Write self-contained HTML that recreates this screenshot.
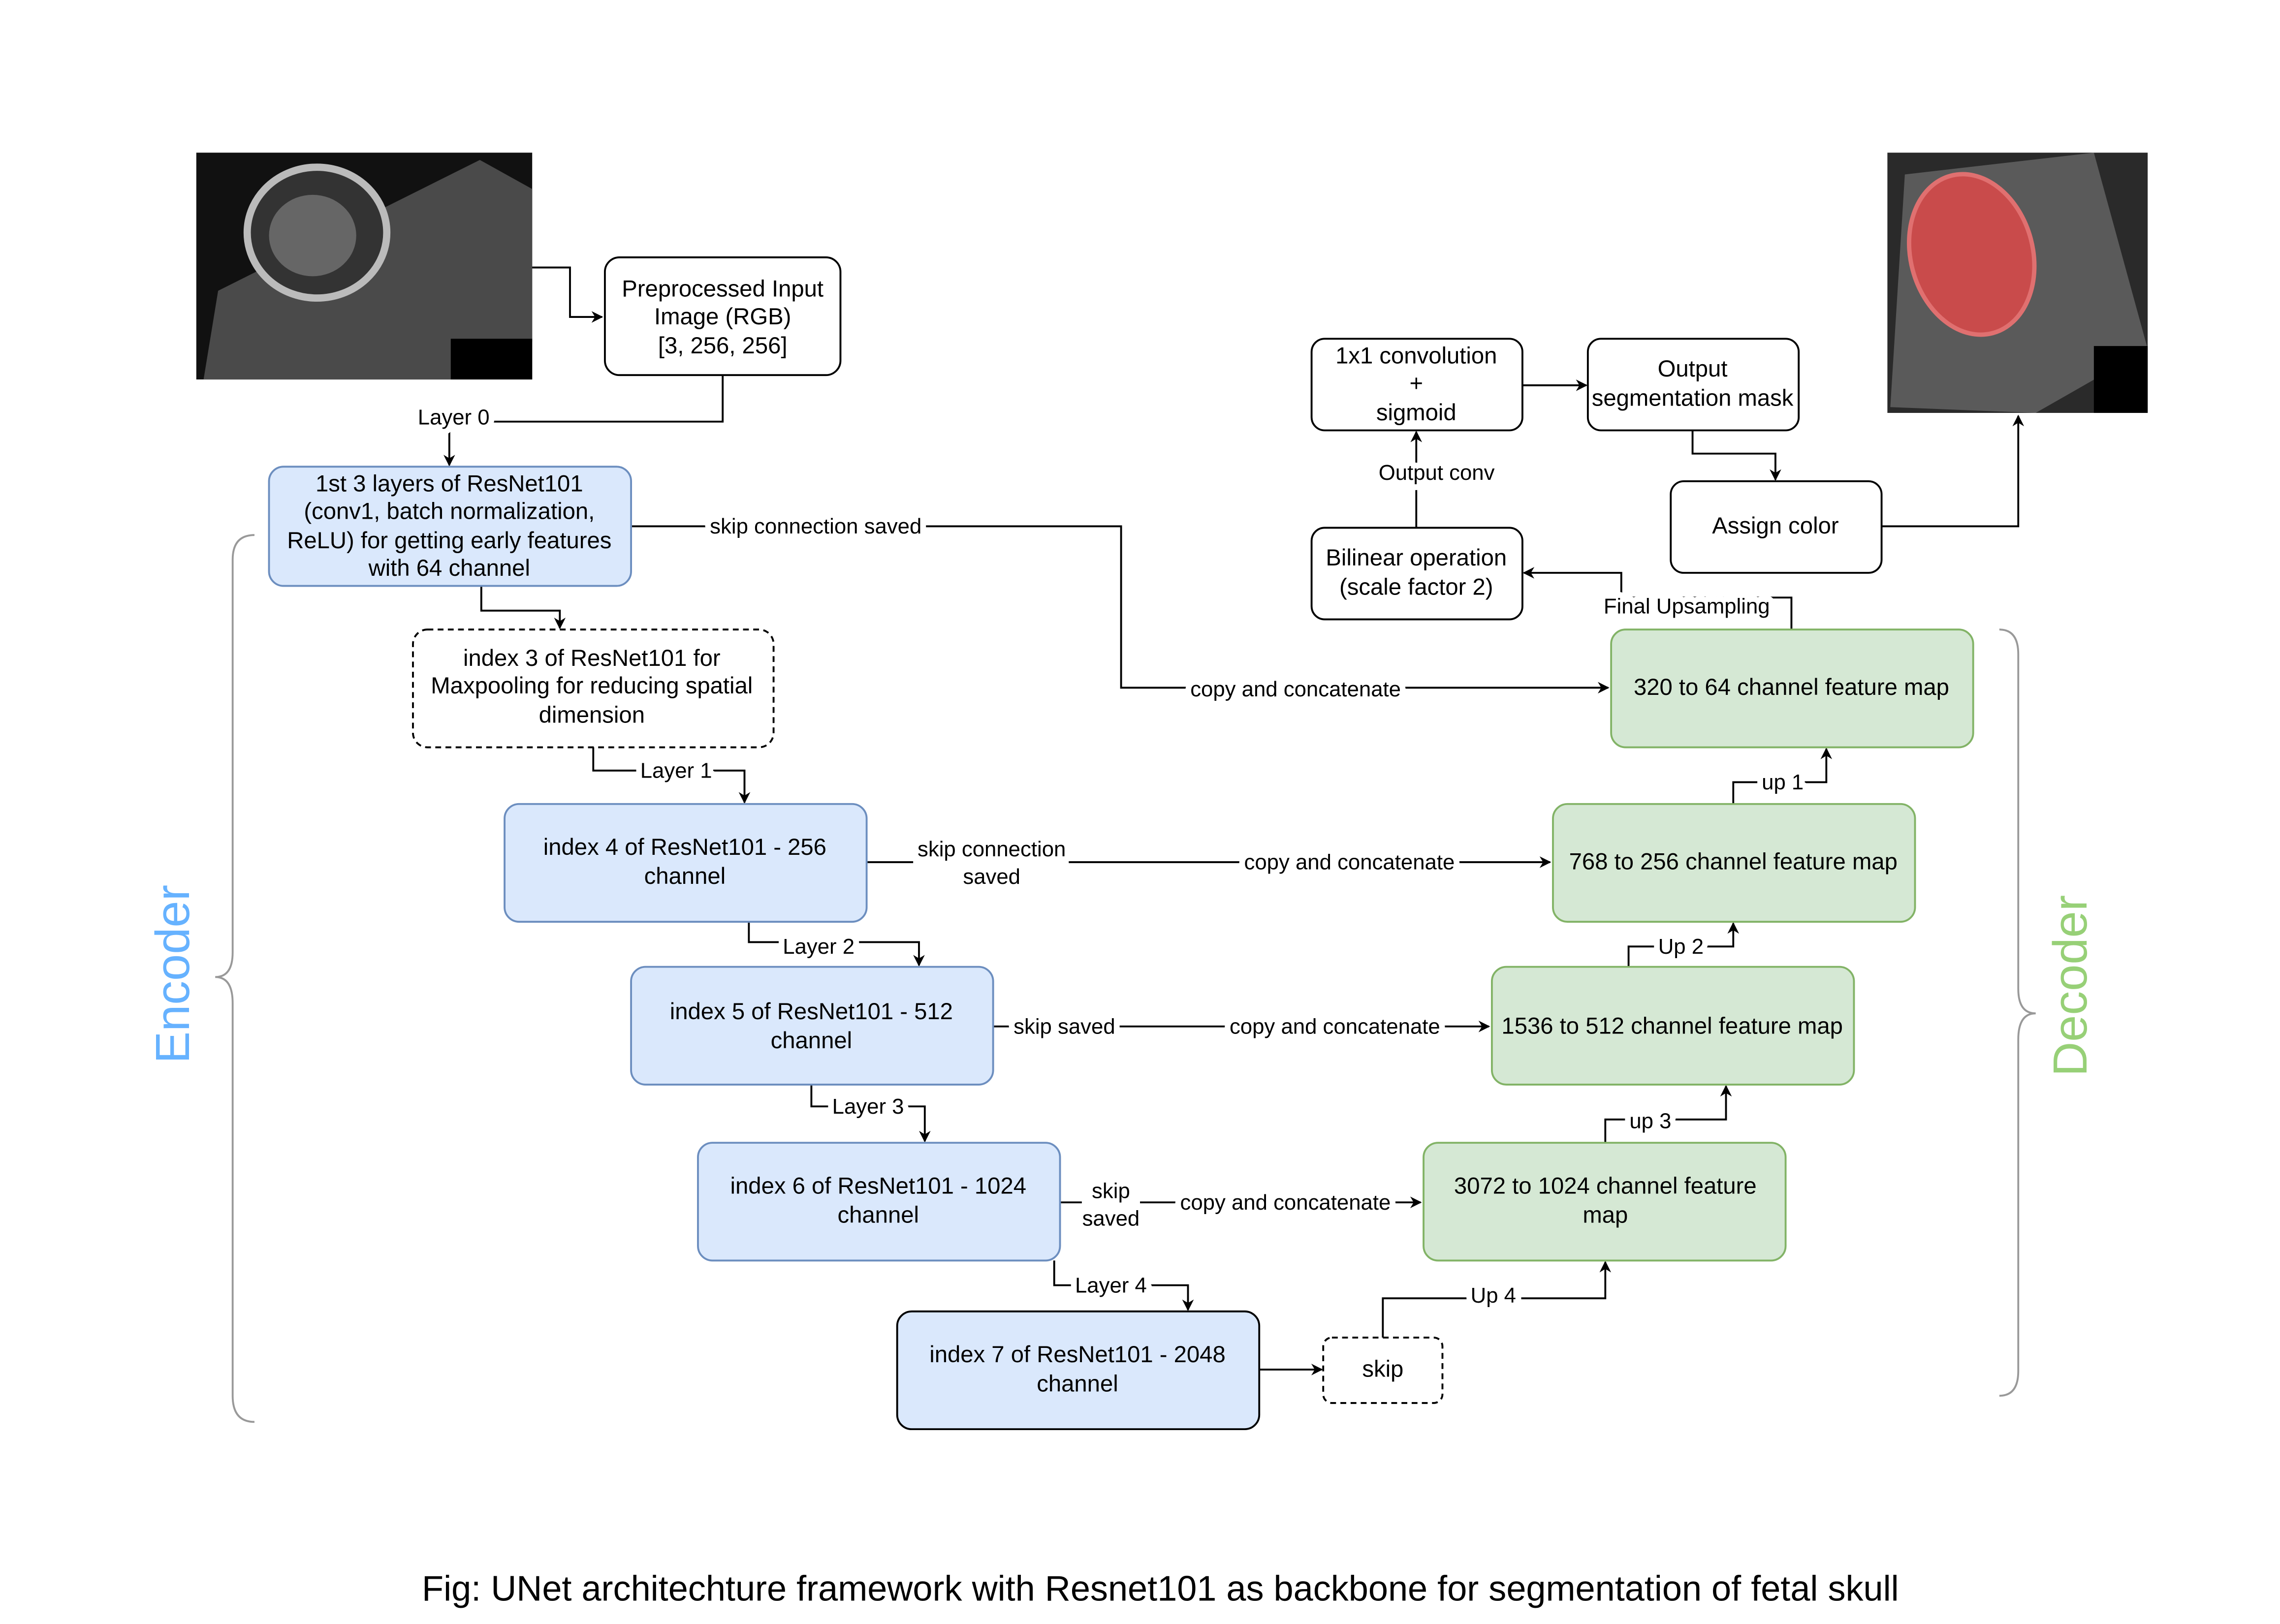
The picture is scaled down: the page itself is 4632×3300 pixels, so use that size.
<!DOCTYPE html>
<html><head><meta charset="utf-8"><style>
html,body{margin:0;padding:0;background:#fff}
svg{display:block}
text{font-family:"Liberation Sans",Arial,sans-serif;fill:#000}
.b{font-size:16px;text-anchor:middle}
.l{font-size:14.8px;text-anchor:middle;paint-order:stroke;stroke:#fff;stroke-width:8px;stroke-linejoin:round}
.c{fill:none;stroke:#000;stroke-width:1.3}
</style></head><body>
<svg width="4632" height="3300" viewBox="0 0 1568 1117" preserveAspectRatio="none">
<defs>
<marker id="a" viewBox="0 0 10 10" refX="9" refY="5" markerWidth="8" markerHeight="8" orient="auto" markerUnits="userSpaceOnUse"><path d="M0,0 L10,5 L0,10 L3,5 z" fill="#000"/></marker>
</defs>
<rect width="1568" height="1117" fill="#fff"/>
<!-- left image -->
<rect x="135" y="105" width="231" height="156" fill="#111"/>
<polygon points="150,200 330,110 366,130 366,235 310,261 140,261" fill="#4a4a4a"/>
<ellipse cx="218" cy="160" rx="48" ry="45" fill="#333" stroke="#bbb" stroke-width="5"/>
<ellipse cx="215" cy="162" rx="30" ry="28" fill="#666"/>
<rect x="310" y="233" width="56" height="28" fill="#000"/>
<!-- right image -->
<rect x="1298" y="105" width="179" height="179" fill="#2a2a2a"/>
<polygon points="1310,120 1440,105 1477,240 1400,284 1300,280" fill="#5a5a5a"/>
<ellipse cx="1356" cy="175" rx="42" ry="56" transform="rotate(-15 1356 175)" fill="#c94b4b" stroke="#e07070" stroke-width="3"/>
<rect x="1440" y="238" width="37" height="46" fill="#000"/>

<!-- connectors -->
<path class="c" d="M366,184 H392 V218 H414" marker-end="url(#a)"/>
<path class="c" d="M497,258 V290 H309 V320" marker-end="url(#a)"/>
<path class="c" d="M434,362 H771 V473 H1106" marker-end="url(#a)"/>
<path class="c" d="M331,403 V420 H385 V432" marker-end="url(#a)"/>
<path class="c" d="M408,514 V530 H512 V552" marker-end="url(#a)"/>
<path class="c" d="M596,593 H1066" marker-end="url(#a)"/>
<path class="c" d="M515,634 V648 H632 V664" marker-end="url(#a)"/>
<path class="c" d="M683,706 H1024" marker-end="url(#a)"/>
<path class="c" d="M558,746 V761 H636 V785" marker-end="url(#a)"/>
<path class="c" d="M729,827 H977" marker-end="url(#a)"/>
<path class="c" d="M725,867 V884 H817 V901" marker-end="url(#a)"/>
<path class="c" d="M866,942 H909" marker-end="url(#a)"/>
<path class="c" d="M951,920 V893 H1104 V868" marker-end="url(#a)"/>
<path class="c" d="M1104,786 V770 H1187 V747" marker-end="url(#a)"/>
<path class="c" d="M1120,665 V651 H1192 V635" marker-end="url(#a)"/>
<path class="c" d="M1192,553 V538 H1256 V515" marker-end="url(#a)"/>
<path class="c" d="M1232,433 V411 H1115 V394 H1048" marker-end="url(#a)"/>
<path class="c" d="M974,363 V297" marker-end="url(#a)"/>
<path class="c" d="M1047,265 H1091" marker-end="url(#a)"/>
<path class="c" d="M1164,296 V312 H1221 V330" marker-end="url(#a)"/>
<path class="c" d="M1294,362 H1388 V286" marker-end="url(#a)"/>

<!-- label backgrounds -->
<rect x="628" y="575" width="107" height="38" fill="#fff"/>
<rect x="744" y="810" width="40" height="38" fill="#fff"/>

<!-- labels -->
<text class="l" x="312" y="292">Layer 0</text>
<text class="l" x="561" y="367">skip connection saved</text>
<text class="l" x="891" y="479">copy and concatenate</text>
<text class="l" x="465" y="535">Layer 1</text>
<text class="l" x="682" y="589">skip connection</text>
<text class="l" x="682" y="608">saved</text>
<text class="l" x="928" y="598">copy and concatenate</text>
<text class="l" x="563" y="656">Layer 2</text>
<text class="l" x="732" y="711">skip saved</text>
<text class="l" x="918" y="711">copy and concatenate</text>
<text class="l" x="597" y="766">Layer 3</text>
<text class="l" x="764" y="824">skip</text>
<text class="l" x="764" y="843">saved</text>
<text class="l" x="884" y="832">copy and concatenate</text>
<text class="l" x="764" y="889">Layer 4</text>
<text class="l" x="1027" y="896">Up 4</text>
<text class="l" x="1135" y="776">up 3</text>
<text class="l" x="1156" y="656">Up 2</text>
<text class="l" x="1226" y="543">up 1</text>
<text class="l" x="1160" y="422">Final Upsampling</text>
<text class="l" x="988" y="330">Output conv</text>

<!-- boxes -->
<rect x="416" y="177" width="162" height="81" rx="10" fill="#fff" stroke="#000" stroke-width="1.3"/>
<text class="b" x="497" y="204">Preprocessed Input</text><text class="b" x="497" y="223">Image (RGB)</text><text class="b" x="497" y="243">[3, 256, 256]</text>

<rect x="185" y="321" width="249" height="82" rx="10" fill="#dae8fc" stroke="#6c8ebf" stroke-width="1.3"/>
<text class="b" x="309" y="338">1st 3 layers of ResNet101</text><text class="b" x="309" y="357">(conv1, batch normalization,</text><text class="b" x="309" y="377">ReLU) for getting early features</text><text class="b" x="309" y="396">with 64 channel</text>

<rect x="284" y="433" width="248" height="81" rx="10" fill="#fff" stroke="#000" stroke-width="1.3" stroke-dasharray="4,3"/>
<text class="b" x="407" y="458">index 3 of ResNet101 for</text><text class="b" x="407" y="477">Maxpooling for reducing spatial</text><text class="b" x="407" y="497">dimension</text>

<rect x="347" y="553" width="249" height="81" rx="10" fill="#dae8fc" stroke="#6c8ebf" stroke-width="1.3"/>
<text class="b" x="471" y="588">index 4 of ResNet101 - 256</text><text class="b" x="471" y="608">channel</text>

<rect x="434" y="665" width="249" height="81" rx="10" fill="#dae8fc" stroke="#6c8ebf" stroke-width="1.3"/>
<text class="b" x="558" y="701">index 5 of ResNet101 - 512</text><text class="b" x="558" y="721">channel</text>

<rect x="480" y="786" width="249" height="81" rx="10" fill="#dae8fc" stroke="#6c8ebf" stroke-width="1.3"/>
<text class="b" x="604" y="821">index 6 of ResNet101 - 1024</text><text class="b" x="604" y="841">channel</text>

<rect x="617" y="902" width="249" height="81" rx="10" fill="#dae8fc" stroke="#000" stroke-width="1.3"/>
<text class="b" x="741" y="937">index 7 of ResNet101 - 2048</text><text class="b" x="741" y="957">channel</text>

<rect x="910" y="920" width="82" height="45" rx="6" fill="#fff" stroke="#000" stroke-width="1.3" stroke-dasharray="4,3"/>
<text class="b" x="951" y="947">skip</text>

<rect x="979" y="786" width="249" height="81" rx="10" fill="#d5e8d4" stroke="#82b366" stroke-width="1.3"/>
<text class="b" x="1104" y="821">3072 to 1024 channel feature</text><text class="b" x="1104" y="841">map</text>

<rect x="1026" y="665" width="249" height="81" rx="10" fill="#d5e8d4" stroke="#82b366" stroke-width="1.3"/>
<text class="b" x="1150" y="711">1536 to 512 channel feature map</text>

<rect x="1068" y="553" width="249" height="81" rx="10" fill="#d5e8d4" stroke="#82b366" stroke-width="1.3"/>
<text class="b" x="1192" y="598">768 to 256 channel feature map</text>

<rect x="1108" y="433" width="249" height="81" rx="10" fill="#d5e8d4" stroke="#82b366" stroke-width="1.3"/>
<text class="b" x="1232" y="478">320 to 64 channel feature map</text>

<rect x="902" y="363" width="145" height="63" rx="9" fill="#fff" stroke="#000" stroke-width="1.3"/>
<text class="b" x="974" y="389">Bilinear operation</text><text class="b" x="974" y="409">(scale factor 2)</text>

<rect x="902" y="233" width="145" height="63" rx="9" fill="#fff" stroke="#000" stroke-width="1.3"/>
<text class="b" x="974" y="250">1x1 convolution</text><text class="b" x="974" y="269">+</text><text class="b" x="974" y="289">sigmoid</text>

<rect x="1092" y="233" width="145" height="63" rx="9" fill="#fff" stroke="#000" stroke-width="1.3"/>
<text class="b" x="1164" y="259">Output</text><text class="b" x="1164" y="279">segmentation mask</text>

<rect x="1149" y="331" width="145" height="63" rx="9" fill="#fff" stroke="#000" stroke-width="1.3"/>
<text class="b" x="1221" y="367">Assign color</text>

<!-- braces -->
<path d="M175,368 Q160,368 160,385 V655 Q160,672 148,672 Q160,672 160,690 V960 Q160,978 175,978" fill="none" stroke="#999" stroke-width="1.3"/>
<path d="M1375,433 Q1388,433 1388,450 V680 Q1388,697 1400,697 Q1388,697 1388,715 V943 Q1388,960 1375,960" fill="none" stroke="#999" stroke-width="1.3"/>
<text x="130" y="670" transform="rotate(-90 130 670)" style="font-size:33px;text-anchor:middle;fill:#66b2ff">Encoder</text>
<text x="1435" y="678" transform="rotate(-90 1435 678)" style="font-size:33px;text-anchor:middle;fill:#97d077">Decoder</text>

<text x="798" y="1101" style="font-size:24.4px;text-anchor:middle">Fig: UNet architechture framework with Resnet101 as backbone for segmentation of fetal skull</text>
</svg>
</body></html>
